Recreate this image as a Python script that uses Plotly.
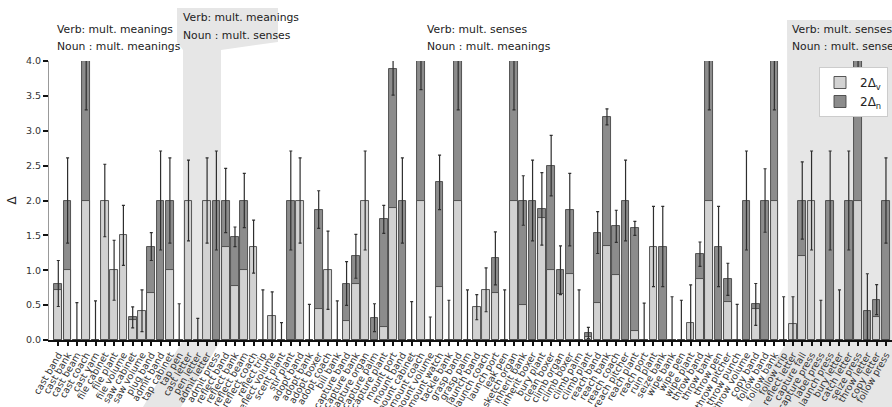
import plotly.graph_objects as go

categories = [
    "cast band", "cast bank", "cast beam", "cast coach", "cast yarn", "file cabinet", "file plant",
    "file volume", "saw cabinet", "saw volume", "plug band", "admit band", "tap cabinet", "tap pen",
    "cast letter", "pen letter", "admit letter", "admit press",
    "reflect band", "reflect bank", "reflect beam", "reflect coach", "reflect trip", "reflect volume",
    "scent plant", "stir plant", "adopt band", "adopt bank", "adopt boxer", "adopt coach", "bill bank",
    "capture band", "capture bank", "capture organ", "capture palm", "capture plant", "mount port",
    "mount band", "mount cabinet", "mount coach", "mount volume", "mount watch", "tackle bank",
    "grasp band", "grasp palm", "launch band", "launch coach", "launch port", "leak pen",
    "sketch organ", "inherit bank", "inherit boxer", "bury plant", "clean boxer", "climb organ",
    "climb boxer", "climb palm", "climb plant", "reach band", "reach bank", "reach coach",
    "reach pitcher", "reach plant", "reach port", "ruin plant", "seize bank", "wipe bank", "wipe pen",
    "wipe plant", "throw band", "throw bank", "throw pen", "throw pitcher", "throw punch",
    "throw volume", "copy band", "follow band", "follow bank", "follow trip",
    "reflect letter", "capture fall", "capture press", "label press", "launch press", "bury letter",
    "catch letter", "seize press", "throw letter", "copy letter", "follow press",
]

# light bars (2Δv)
delta_v = [
    0.71, 1.0, 0, 2.0, 0, 2.0, 1.0, 1.5, 0.28, 0.42, 0.67, 0, 1.0, 0,
    2.0, 0, 2.0, 0,
    1.34, 0.77, 1.0, 1.34, 0, 0.34, 0, 0, 2.0, 0, 0.44, 1.0, 0,
    0.27, 0.80, 2.0, 0, 0.18, 1.89, 0, 0, 2.0, 0, 0.755, 0,
    2.0, 0, 0.47, 0.72, 0.67, 0, 2.0, 0.50, 0, 1.75, 1.0, 0.66,
    0.94, 0, 0.05, 0.53, 1.35, 0.93, 0, 0.13, 0, 1.34, 0, 0, 0,
    0.25, 0.875, 2.0, 0, 0.54, 0, 0, 0.45, 0, 2.0, 0,
    0.23, 1.20, 2.0, 0, 0, 0, 0, 2.0, 0, 0.325, 0,
]

# dark bars (2Δn)
delta_n = [
    0.81, 2.0, 0, 4.0, 0, 0, 0, 0, 0.325, 0, 1.34, 2.0, 2.0, 0,
    0, 0, 0, 2.0,
    2.0, 1.48, 2.0, 0, 0, 0, 0, 2.0, 0, 0, 1.87, 0, 0,
    0.81, 1.20, 0, 0.32, 1.73, 3.89, 2.0, 0, 4.0, 0, 2.26, 0,
    4.0, 0, 0, 0, 1.17, 0, 4.0, 2.0, 2.0, 1.88, 2.5, 1.0,
    1.87, 0, 0.10, 1.54, 3.20, 1.63, 2.0, 1.60, 0, 0, 1.34, 0, 0,
    0, 1.23, 4.0, 1.34, 0.87, 0, 2.0, 0.51, 2.0, 4.0, 0,
    0, 2.0, 0, 0, 2.0, 0, 2.0, 4.0, 0.41, 0.58, 2.0,
]

# error on the top of each column
errors = [
    0.33, 0.61, 0.535, 0.70, 0.56, 0.52, 0.43, 0.43, 0.15, 0.30, 0.20, 0.71, 0.61, 0.52,
    0.58, 0.31, 0.61, 0.71,
    0.46, 0.14, 0.39, 0.38, 0.72, 0.35, 0.25, 0.71, 0.61, 0.51, 0.27, 0.56, 0.56,
    0.315, 0.315, 0.71, 0.20, 0.20, 0.38, 0.61, 0.55, 0.41, 0.33, 0.39, 0.57,
    0.70, 0.72, 0.18, 0.315, 0.38, 0.72, 0.70, 0.355, 0.58, 0.52, 0.435, 0.35,
    0.52, 0.72, 0.08, 0.30, 0.115, 0.23, 0.58, 0.10, 0.53, 0.575, 0.575, 0.62, 0.57,
    0.54, 0.175, 0.70, 0.575, 0.23, 0.51, 0.71, 0.30, 0.455, 0.70, 0.62,
    0.39, 0.555, 0.71, 0.57, 0.71, 0.72, 0.71, 0.70, 0.54, 0.215, 0.61,
]

group_bounds = [-1, 13.5, 17.5, 78.5]
group_verb = ["Verb: mult. meanings", "Verb: mult. meanings", "Verb: mult. senses", "Verb: mult. senses"]
group_noun = ["Noun : mult. meanings", "Noun : mult. senses", "Noun : mult. meanings", "Noun : mult. senses"]

W, H = 892, 407
L, R, T, B = 49, 0, 61, 67
PW, PH = W - L - R, H - T - B


def px(xp):
    return (xp - L) / PW


def py(yp):
    return (H - B - yp) / PH


FONT = "DejaVu Sans"
fig = go.Figure()

fig.add_trace(go.Bar(
    x=categories, y=delta_n, name="2Δ<sub>n</sub>", width=0.82,
    marker=dict(color="#8c8c8c", line=dict(color="#454545", width=0.9)),
    legendrank=2,
))
fig.add_trace(go.Bar(
    x=categories, y=delta_v, name="2Δ<sub>v</sub>", width=0.82,
    marker=dict(color="#d2d2d2", line=dict(color="#454545", width=0.9)),
    legendrank=1,
))
tops = [max(a, b) for a, b in zip(delta_v, delta_n)]
fig.add_trace(go.Scatter(
    x=categories, y=tops, mode="markers", marker=dict(size=1, opacity=0),
    error_y=dict(type="data", array=errors, visible=True, color="#2e2e2e", thickness=1.2, width=1.5),
    showlegend=False, hoverinfo="skip",
))

# shaded group regions (decorative)
shade = "#e6e6e6"
g2 = [(177, 8), (278, 8), (278, 42), (221, 50), (221, 340), (181, 407), (143, 407), (183, 340),
      (183, 50), (177, 42)]
g4 = [(787, 20), (900, 20), (900, 407), (748, 407), (788, 340)]
shapes = []
for poly in (g2, g4):
    path = "M " + " L ".join(f"{px(a):.5f},{py(b):.5f}" for a, b in poly) + " Z"
    shapes.append(dict(type="path", xref="paper", yref="paper", path=path,
                       fillcolor=shade, line=dict(width=0), layer="below"))

annotations = []
text_pos = [(55, 29, 47), (181, 17, 35), (425, 29, 47), (790, 29, 47)]
for (xx, y1, y2), tv, tn in zip(text_pos, group_verb, group_noun):
    for yy, t in ((y1, tv), (y2, tn)):
        annotations.append(dict(x=px(xx), y=py(yy), xref="paper", yref="paper", text=t,
                                showarrow=False, xanchor="left", yanchor="middle",
                                font=dict(family=FONT, size=10.8, color="#222")))

fig.update_layout(
    template="none",
    width=W, height=H, autosize=False,
    margin=dict(l=L, r=R, t=T, b=B, pad=0, autoexpand=False),
    paper_bgcolor="white", plot_bgcolor="rgba(0,0,0,0)",
    barmode="overlay", bargap=0,
    font=dict(family=FONT, size=10, color="#333"),
    shapes=shapes, annotations=annotations,
    legend=dict(x=px(888), y=py(67), xanchor="right", yanchor="top",
                bgcolor="white", bordercolor="#cccccc", borderwidth=1,
                font=dict(family=FONT, size=12, color="#222"), tracegroupgap=0),
    xaxis=dict(type="category", categoryorder="array", categoryarray=categories,
               tickmode="array", tickvals=categories, ticktext=categories, automargin=False,
               range=[-1, 89.65], tickangle=-60, ticks="outside", ticklen=4, tickwidth=2,
               tickcolor="#111", showline=True, linecolor="#111", linewidth=1.5,
               showgrid=False, zeroline=False, tickfont=dict(family=FONT, size=9.5, color="#333")),
    xaxis2=dict(overlaying="x", side="top", anchor="y", range=[-1, 89.65], automargin=False,
                tickvals=group_bounds, ticks="outside", ticklen=10, tickwidth=2, tickcolor="#111",
                showline=True, linecolor="#111", linewidth=2, showticklabels=False,
                showgrid=False, zeroline=False),
    yaxis=dict(range=[0, 4], tickvals=[0, 0.5, 1, 1.5, 2, 2.5, 3, 3.5, 4], tickformat=".1f",
               automargin=False,
               ticks="outside", ticklen=5, tickwidth=1.5, tickcolor="#111",
               showline=True, linecolor="#999", linewidth=1, showgrid=False, zeroline=False,
               title=dict(text="Δ", font=dict(family=FONT, size=12, color="#222"), standoff=6),
               tickfont=dict(family=FONT, size=9.5, color="#333")),
)

fig.write_html("out.html", config={"displayModeBar": False},
               post_script="document.body.style.margin='0';document.body.style.overflow='hidden';")
